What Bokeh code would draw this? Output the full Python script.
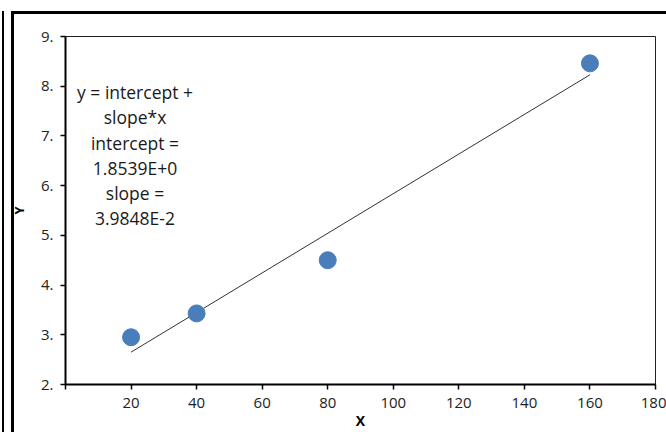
from bokeh.plotting import figure
from bokeh.models import FixedTicker, Label, Range1d, InlineStyleSheet
from bokeh.embed import file_html
from bokeh.resources import INLINE

# ---- data ----
x_vals = [20, 40, 80, 160]
y_vals = [2.95, 3.43, 4.50, 8.46]
intercept = 1.8539
slope = 0.039848
fit_x = [20, 160]
x_ticks = [0, 20, 40, 60, 80, 100, 120, 140, 160, 180]
x_tick_labels = ["", "20", "40", "60", "80", "100", "120", "140", "160", "180"]
y_ticks = [2, 3, 4, 5, 6, 7, 8, 9]
y_tick_labels = ["2.", "3.", "4.", "5.", "6.", "7.", "8.", "9."]
eq_lines = ["y = intercept +", "slope*x", "intercept =", "1.8539E+0", "slope =", "3.9848E-2"]

FONT = "Open Sans"

p = figure(width=666, height=432, output_backend="svg", toolbar_location=None,
           x_range=Range1d(0, 180), y_range=Range1d(2, 9),
           min_border_left=65, min_border_right=11, min_border_top=36, min_border_bottom=48)

p.xgrid.visible = False
p.ygrid.visible = False
p.outline_line_color = "#222222"
p.outline_line_width = 1
p.background_fill_color = "white"
p.border_fill_color = "white"

for ax in (p.xaxis[0], p.yaxis[0]):
    ax.axis_line_width = 2
    ax.axis_line_color = "black"
    ax.major_tick_in = 0
    ax.major_tick_out = 5
    ax.major_tick_line_width = 1.5
    ax.major_tick_line_color = "black"
    ax.minor_tick_line_color = None
    ax.major_label_text_font = FONT
    ax.major_label_text_font_size = "15px"
    ax.major_label_text_color = "#222222"
    ax.axis_label_text_font = FONT
    ax.axis_label_text_font_style = "bold"
    ax.axis_label_text_color = "black"

p.xaxis.ticker = FixedTicker(ticks=x_ticks)
p.xaxis.major_label_overrides = {t: l for t, l in zip(x_ticks, x_tick_labels)}
p.yaxis.ticker = FixedTicker(ticks=y_ticks)
p.yaxis.major_label_overrides = {t: l for t, l in zip(y_ticks, y_tick_labels)}
p.xaxis.axis_label = "X"
p.yaxis.axis_label = "Y"
p.xaxis.axis_label_text_font_size = "14px"
p.yaxis.axis_label_text_font_size = "13px"
p.xaxis.major_label_standoff = 8
p.yaxis.major_label_standoff = 7
p.xaxis.axis_label_standoff = 0
p.yaxis.axis_label_standoff = 10

# fitted line
fit_y = [intercept + slope * x for x in fit_x]
p.line(fit_x, fit_y, line_color="#333333", line_width=1)

# points
p.scatter(x_vals, y_vals, size=17, fill_color="#4a7ebb", line_color="#4a7ebb")

# equation text
p.add_layout(Label(x=21.2, y=8.12, text="\n".join(eq_lines), text_align="center",
                   text_baseline="top", text_font=FONT, text_font_size="17.5px",
                   text_line_height=1.05, text_color="#1a1a1a"))

# outer frame lines (drawn with CSS on the plot host)
p.stylesheets = [InlineStyleSheet(css="""
:host { position: relative; }
:host::before { content: ""; position: absolute; left: 11px; top: 11px; right: 0px; bottom: 0px;
  border-left: 3px solid black; border-top: 3px solid black; pointer-events: none; z-index: 10; }
:host::after { content: ""; position: absolute; left: 2px; top: 11px; width: 2px; bottom: 0px;
  background: black; pointer-events: none; z-index: 10; }
""")]

open("out.html", "w").write(file_html(p, INLINE))
